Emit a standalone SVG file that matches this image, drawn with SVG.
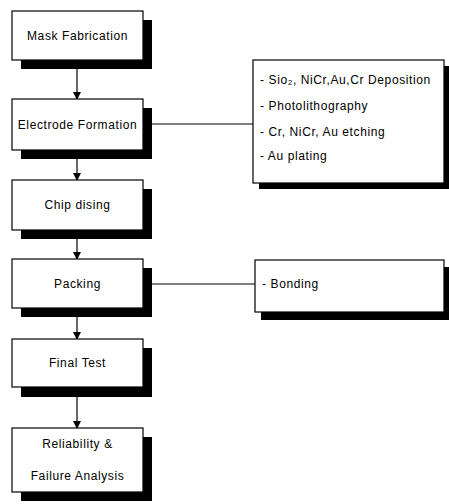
<svg xmlns="http://www.w3.org/2000/svg" width="449" height="504" viewBox="0 0 449 504">
<defs>
<style>
.box{fill:#fff;stroke:#000;stroke-width:1.2}
.sh{fill:#000}
.t{font-family:"Liberation Sans",Arial,sans-serif;font-size:12px;letter-spacing:0.6px;fill:#000}
.c{text-anchor:middle}
.ln{stroke:#000;stroke-width:1.2;fill:none}
</style>
<marker id="ah" markerWidth="8" markerHeight="10" refX="7" refY="4" orient="auto" markerUnits="userSpaceOnUse" viewBox="0 0 8 8">
<path d="M0,0 L8,4 L0,8 Z" fill="#000"/>
</marker>
</defs>
<rect width="449" height="504" fill="#fff"/>
<g id="connectors">
<line class="ln" x1="77" y1="60" x2="77" y2="99" marker-end="url(#ah)"/>
<line class="ln" x1="77" y1="150" x2="77" y2="180" marker-end="url(#ah)"/>
<line class="ln" x1="77" y1="230" x2="77" y2="259" marker-end="url(#ah)"/>
<line class="ln" x1="77" y1="308" x2="77" y2="339" marker-end="url(#ah)"/>
<line class="ln" x1="77" y1="387" x2="77" y2="428" marker-end="url(#ah)"/>
<line class="ln" x1="152" y1="124" x2="253" y2="124"/>
<line class="ln" x1="152" y1="284" x2="255" y2="284"/>
</g>
<g id="n1">
<rect class="sh" x="21" y="20" width="131" height="49"/>
<rect class="box" x="12" y="11" width="131" height="49"/>
<text class="t c" x="77.5" y="40">Mask Fabrication</text>
</g>
<g id="n2">
<rect class="sh" x="21" y="108" width="131" height="51"/>
<rect class="box" x="12" y="99" width="131" height="51"/>
<text class="t c" x="77.5" y="129">Electrode Formation</text>
</g>
<g id="n3">
<rect class="sh" x="21" y="189" width="131" height="50"/>
<rect class="box" x="12" y="180" width="131" height="50"/>
<text class="t c" x="77.5" y="209">Chip dising</text>
</g>
<g id="n4">
<rect class="sh" x="21" y="268" width="131" height="49"/>
<rect class="box" x="12" y="259" width="131" height="49"/>
<text class="t c" x="77.5" y="288">Packing</text>
</g>
<g id="n5">
<rect class="sh" x="21" y="348" width="131" height="49"/>
<rect class="box" x="12" y="339" width="131" height="48"/>
<text class="t c" x="77.5" y="367">Final Test</text>
</g>
<g id="n6">
<rect class="sh" x="21" y="437" width="131" height="64"/>
<rect class="box" x="12" y="428" width="131" height="64"/>
<text class="t c" x="77.5" y="448">Reliability &amp;</text>
<text class="t c" x="77.5" y="480">Failure Analysis</text>
</g>
<g id="s1">
<rect class="sh" x="259" y="66" width="190" height="123"/>
<rect class="box" x="253" y="60" width="191" height="123"/>
<text class="t" x="260" y="84">- Sio₂, NiCr,Au,Cr Deposition</text>
<text class="t" x="260" y="110">- Photolithography</text>
<text class="t" x="260" y="136">- Cr, NiCr, Au etching</text>
<text class="t" x="260" y="160">- Au plating</text>
</g>
<g id="s2">
<rect class="sh" x="261" y="267" width="188" height="53"/>
<rect class="box" x="255" y="260" width="189" height="52"/>
<text class="t" x="262" y="288">- Bonding</text>
</g>
</svg>
